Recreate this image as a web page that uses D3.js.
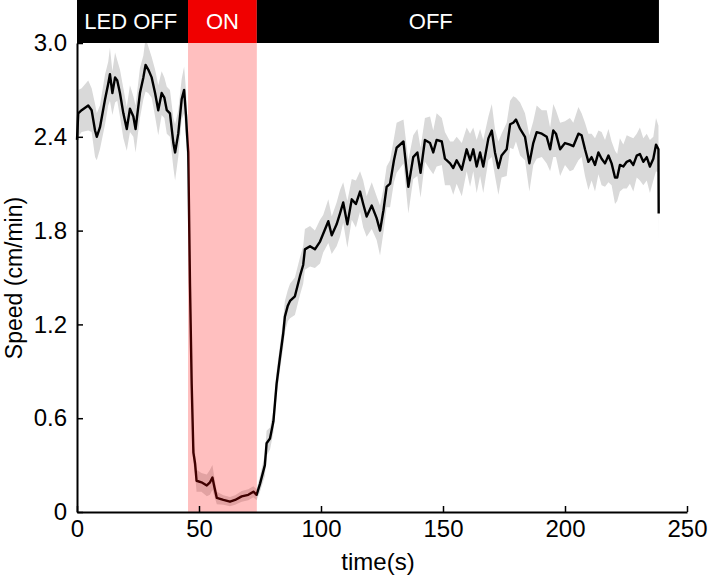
<!DOCTYPE html>
<html>
  <head>
    <style>
      body {
        margin: 0;
        background: #fff;
      }
      text {
        font-family: "Liberation Sans", Arial, sans-serif;
      }
    </style>
    <script src="https://d3js.org/d3.v7.min.js"></script>
  </head>

  <body>
    <svg width="708" height="577"></svg>

    <script>
      // mean speed trace (s, cm/min) and its s.e.m.
      var time = [
        0, 0.5, 1.9, 4.6, 6, 7.4, 8.1, 9.4, 11.5, 12.8,
        13.5, 14.5, 15.6, 16.5, 17.6, 19, 20.4, 21.7, 23.1, 24,
        25.8, 27.2, 28.1, 29.2, 30.6, 32, 33.3, 34.7, 35.8, 36.8,
        38.1, 39.5, 40.2, 41.5, 42.9, 43.9, 44.7, 45, 45.6, 46.3,
        47, 47.7, 48.4, 49, 51, 53.2, 54.5, 55.5, 56.3, 57.3,
        60, 62.7, 64.8, 67.5, 70.2, 72.3, 73.6, 75, 77, 77.7,
        79.1, 80.5, 81.8, 83.2, 84.5, 85.2, 86.4, 87.3, 89.3, 91.4,
        92.7, 93.4, 95.5, 97.5, 99.6, 100.9, 103, 104.4, 106.4, 107.8,
        109.1, 110.8, 112.6, 114.3, 116, 117.3, 118.7, 120.8, 122.8, 124.2,
        125.6, 126.9, 128.3, 129.9, 131, 133.8, 135.8, 137.8, 139.5, 140.8,
        142.6, 144.7, 146, 147.4, 149.5, 150.8, 152.9, 154.2, 155.6, 157.7,
        159.7, 161.1, 162.4, 163.8, 165.2, 166.5, 168.6, 170, 171.3, 172.7,
        174, 176.1, 177.5, 178.8, 179.9, 181.6, 183.6, 185.4, 187, 188.4,
        190.5, 192.5, 193.9, 195.2, 196.3, 198, 200, 202, 203.4, 205.5,
        206.8, 208.2, 209.6, 210.9, 212.3, 213.7, 215, 216.4, 217.8, 219.1,
        220.5, 221.4, 222.5, 223.9, 225.3, 226.6, 228, 229.4, 230.7, 232.1,
        233.5, 234.8, 236.2, 237.3, 238.3, 238.4
      ];
      var speed = [
        2.38, 2.55, 2.57, 2.60, 2.57, 2.44, 2.40, 2.46, 2.64, 2.74,
        2.80, 2.68, 2.78, 2.76, 2.68, 2.55, 2.45, 2.58, 2.53, 2.45,
        2.68, 2.78, 2.86, 2.83, 2.78, 2.68, 2.57, 2.68, 2.65, 2.57,
        2.55, 2.36, 2.30, 2.42, 2.64, 2.70, 2.53, 2.44, 2.30, 1.46,
        0.82, 0.38, 0.31, 0.20, 0.19, 0.17, 0.19, 0.22, 0.16, 0.09,
        0.077, 0.066, 0.077, 0.10, 0.11, 0.13, 0.11, 0.18, 0.30, 0.44,
        0.47, 0.58, 0.82, 0.99, 1.14, 1.25, 1.32, 1.35, 1.38, 1.51,
        1.58, 1.68, 1.70, 1.68, 1.73, 1.78, 1.86, 1.77, 1.84, 1.91,
        1.98, 1.84, 2.00, 1.97, 2.05, 1.97, 1.89, 1.96, 1.88, 1.80,
        1.93, 2.08, 2.10, 2.25, 2.33, 2.37, 2.08, 2.27, 2.30, 2.17,
        2.38, 2.36, 2.30, 2.38, 2.37, 2.26, 2.23, 2.20, 2.25, 2.19,
        2.32, 2.25, 2.32, 2.21, 2.30, 2.21, 2.39, 2.44, 2.30, 2.20,
        2.28, 2.32, 2.48, 2.49, 2.51, 2.45, 2.40, 2.23, 2.36, 2.43,
        2.42, 2.40, 2.32, 2.44, 2.42, 2.32, 2.36, 2.35, 2.34, 2.42,
        2.41, 2.32, 2.24, 2.27, 2.22, 2.30, 2.26, 2.23, 2.28, 2.23,
        2.14, 2.14, 2.22, 2.21, 2.24, 2.25, 2.22, 2.28, 2.29, 2.24,
        2.27, 2.21, 2.26, 2.35, 2.32, 1.91
      ];
      var sem = [
        0.17, 0.15, 0.14, 0.16, 0.14, 0.17, 0.15, 0.14, 0.16, 0.14,
        0.17, 0.14, 0.16, 0.13, 0.15, 0.16, 0.14, 0.15, 0.13, 0.15,
        0.16, 0.14, 0.17, 0.15, 0.13, 0.15, 0.16, 0.14, 0.13, 0.15,
        0.15, 0.16, 0.18, 0.15, 0.13, 0.15, 0.16, 0.15, 0.12, 0.09,
        0.07, 0.07, 0.07, 0.07, 0.06, 0.07, 0.08, 0.08, 0.06, 0.04,
        0.03, 0.03, 0.03, 0.035, 0.035, 0.035, 0.035, 0.05, 0.07, 0.08,
        0.07, 0.07, 0.08, 0.08, 0.09, 0.10, 0.10, 0.11, 0.12, 0.12,
        0.12, 0.13, 0.13, 0.12, 0.14, 0.12, 0.14, 0.12, 0.14, 0.15,
        0.13, 0.15, 0.13, 0.15, 0.13, 0.15, 0.13, 0.15, 0.14, 0.16,
        0.14, 0.13, 0.15, 0.14, 0.16, 0.14, 0.17, 0.14, 0.15, 0.16,
        0.14, 0.17, 0.14, 0.17, 0.15, 0.17, 0.14, 0.17, 0.15, 0.17,
        0.14, 0.17, 0.14, 0.17, 0.15, 0.17, 0.14, 0.17, 0.15, 0.17,
        0.14, 0.17, 0.15, 0.17, 0.14, 0.17, 0.15, 0.18, 0.14, 0.17,
        0.15, 0.17, 0.14, 0.17, 0.15, 0.17, 0.14, 0.17, 0.15, 0.17,
        0.14, 0.17, 0.18, 0.15, 0.17, 0.14, 0.17, 0.15, 0.17, 0.14,
        0.17, 0.15, 0.17, 0.14, 0.17, 0.15, 0.17, 0.14, 0.17, 0.15,
        0.15, 0.17, 0.14, 0.17, 0.15, 0.18
      ];

      var xTicks = [0, 50, 100, 150, 200, 250];
      var yTicks = [0, 0.6, 1.2, 1.8, 2.4, 3.0];

      // LED phases: start, end, label, label position
      var phaseStart = [0, 45.5, 73.7];
      var phaseEnd = [45.5, 73.7, 238.5];
      var phaseLabel = ["LED OFF", "ON", "OFF"];
      var phaseLabelAt = [22, 59.6, 145];

      var svg = d3.select("svg");
      var x = d3.scaleLinear().domain([0, 250]).range([77, 687]);
      var y = d3.scaleLinear().domain([0, 3]).range([512, 43]);

      var data = time.map(function (t, i) {
        return { t: t, v: speed[i], e: sem[i] };
      });

      // s.e.m. band
      svg.append("path")
        .datum(data)
        .attr("fill", "#d9d9d9")
        .attr("d", d3.area()
          .x(function (d) { return x(d.t); })
          .y0(function (d) { return y(d.v - d.e); })
          .y1(function (d) { return y(d.v + d.e); }));

      // mean
      svg.append("path")
        .datum(data)
        .attr("fill", "none")
        .attr("stroke", "#000")
        .attr("stroke-width", 2.4)
        .attr("stroke-linejoin", "round")
        .attr("d", d3.line()
          .x(function (d) { return x(d.t); })
          .y(function (d) { return y(d.v); }));

      // LED on shading over the plot
      svg.append("rect")
        .attr("x", x(phaseStart[1]))
        .attr("y", y(3))
        .attr("width", x(phaseEnd[1]) - x(phaseStart[1]))
        .attr("height", y(0) - y(3))
        .attr("fill", "#ff0000")
        .attr("opacity", 0.25);

      // top phase bar
      var bar = svg.append("g");
      bar.selectAll("rect")
        .data(phaseLabel)
        .enter()
        .append("rect")
        .attr("x", function (d, i) { return x(phaseStart[i]); })
        .attr("y", 0)
        .attr("width", function (d, i) { return x(phaseEnd[i]) - x(phaseStart[i]); })
        .attr("height", y(3))
        .attr("fill", function (d, i) { return i === 1 ? "#f00000" : "#000"; });
      bar.selectAll("text")
        .data(phaseLabel)
        .enter()
        .append("text")
        .attr("x", function (d, i) { return x(phaseLabelAt[i]); })
        .attr("y", 29)
        .attr("text-anchor", "middle")
        .attr("fill", "#fff")
        .attr("font-size", 22)
        .text(function (d) { return d; });

      // axes, ticks pointing inward
      var xAxis = svg.append("g")
        .attr("transform", "translate(0," + y(0) + ")")
        .call(d3.axisBottom(x).tickValues(xTicks).tickSizeInner(-6).tickSizeOuter(0).tickPadding(8));
      var yAxis = svg.append("g")
        .attr("transform", "translate(" + x(0) + ",0)")
        .call(d3.axisLeft(y).tickValues(yTicks).tickSizeInner(-6).tickSizeOuter(0).tickPadding(10)
          .tickFormat(function (d) { return d === 0 ? "0" : d.toFixed(1); }));

      [xAxis, yAxis].forEach(function (a) {
        a.select(".domain").attr("stroke", "#000").attr("stroke-width", 2);
        a.selectAll(".tick line").attr("stroke", "#000").attr("stroke-width", 1.5);
        a.selectAll(".tick text")
          .attr("fill", "#000")
          .attr("font-size", 24)
          .attr("font-family", "Liberation Sans, Arial, sans-serif");
      });

      svg.append("text")
        .attr("x", 378)
        .attr("y", 570)
        .attr("text-anchor", "middle")
        .attr("font-size", 24)
        .text("time(s)");

      svg.append("text")
        .attr("transform", "translate(22,278) rotate(-90)")
        .attr("text-anchor", "middle")
        .attr("font-size", 23)
        .text("Speed (cm/min)");
    </script>
  </body>
</html>
